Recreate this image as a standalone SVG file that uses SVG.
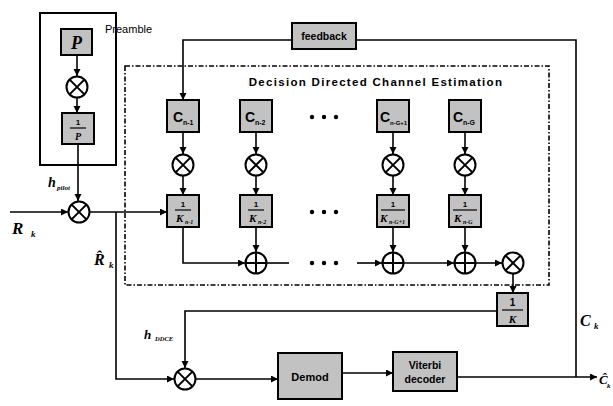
<svg xmlns="http://www.w3.org/2000/svg" width="613" height="406" viewBox="0 0 613 406">
<style>
.box{fill:#c2c2c2;stroke:#000;stroke-width:2}
.ln{fill:none;stroke:#000;stroke-width:1.6}
.sym{fill:#fff;stroke:#000;stroke-width:2}
.lbl{font-family:"Liberation Sans",Arial,sans-serif;font-weight:bold;fill:#000}
.it{font-family:"Liberation Serif","Times New Roman",serif;font-style:italic;font-weight:bold;fill:#000}
.dot{fill:#000}
</style>
<defs>
<marker id="ah" markerWidth="8" markerHeight="8" refX="7" refY="3.5" orient="auto" markerUnits="userSpaceOnUse">
<path d="M0,0 L7,3.5 L0,7 z" fill="#000"/>
</marker>
<g id="mul"><circle r="10.5" class="sym"/><path d="M-7.4,-7.4 L7.4,7.4 M-7.4,7.4 L7.4,-7.4" stroke="#000" stroke-width="2"/></g>
<g id="add"><circle r="10.5" class="sym"/><path d="M0,-10.5 L0,10.5 M-10.5,0 L10.5,0" stroke="#000" stroke-width="2"/></g>
</defs>
<rect width="613" height="406" fill="#fff"/>

<g id="connectors">
<path class="ln" d="M77,55 L77,76" marker-end="url(#ah)"/>
<path class="ln" d="M77,98 L77,113" marker-end="url(#ah)"/>
<path class="ln" d="M78,144 L78,201" marker-end="url(#ah)"/>
<path class="ln" d="M10,212 L68,212" marker-end="url(#ah)"/>
<path class="ln" d="M90,212 L167,212" marker-end="url(#ah)"/>
<path class="ln" d="M116,212 L116,379 L174,379" marker-end="url(#ah)"/>
<path class="ln" d="M292,40 L183,40 L183,100" marker-end="url(#ah)"/>
<path class="ln" d="M356,40 L576,40 L576,377"/>
<path class="ln" d="M183,132 L183,154" marker-end="url(#ah)"/>
<path class="ln" d="M183,176 L183,195" marker-end="url(#ah)"/>
<path class="ln" d="M256,132 L256,154" marker-end="url(#ah)"/>
<path class="ln" d="M256,176 L256,195" marker-end="url(#ah)"/>
<path class="ln" d="M393,132 L393,154" marker-end="url(#ah)"/>
<path class="ln" d="M393,176 L393,195" marker-end="url(#ah)"/>
<path class="ln" d="M465,132 L465,154" marker-end="url(#ah)"/>
<path class="ln" d="M465,176 L465,195" marker-end="url(#ah)"/>
<path class="ln" d="M183,227 L183,263 L245,263" marker-end="url(#ah)"/>
<path class="ln" d="M256,227 L256,252" marker-end="url(#ah)"/>
<path class="ln" d="M393,227 L393,252" marker-end="url(#ah)"/>
<path class="ln" d="M465,227 L465,252" marker-end="url(#ah)"/>
<path class="ln" d="M267,263 L289,263"/>
<path class="ln" d="M357,263 L382,263" marker-end="url(#ah)"/>
<path class="ln" d="M404,263 L454,263" marker-end="url(#ah)"/>
<path class="ln" d="M476,263 L502,263" marker-end="url(#ah)"/>
<path class="ln" d="M513,274 L513,293" marker-end="url(#ah)"/>
<path class="ln" d="M497,311 L185,311 L185,368" marker-end="url(#ah)"/>
<path class="ln" d="M196,379 L278,379" marker-end="url(#ah)"/>
<path class="ln" d="M342,373 L393,373" marker-end="url(#ah)"/>
<path class="ln" d="M457,377 L597,377" marker-end="url(#ah)"/>
</g>

<g id="preamble">
<rect x="40" y="13" width="76" height="152" fill="none" stroke="#000" stroke-width="2"/>
<text x="105" y="33" class="lbl" font-size="11" style="font-weight:normal">Preamble</text>
</g>
<g id="ddce">
<rect x="125" y="66" width="424" height="219" fill="none" stroke="#000" stroke-width="1.6" stroke-dasharray="5,2,1.5,2"/>
<text x="376" y="86" class="lbl" font-size="11.5" text-anchor="middle" letter-spacing="1.3">Decision Directed Channel Estimation</text>
</g>

<g id="P"><rect x="61" y="29" width="31" height="26" class="box"/><text x="76.5" y="49" class="it" font-size="18" text-anchor="middle">P</text></g>
<g id="mulP"><use href="#mul" x="77" y="87"/></g>
<g id="invP"><rect x="62" y="113" width="32" height="31" class="box"/><text x="78" y="125" class="lbl" font-size="8" text-anchor="middle">1</text><path d="M70,128 L86,128" stroke="#000" stroke-width="1.2"/><text x="78" y="140" class="it" font-size="10" text-anchor="middle">P</text></g>
<g id="hpilot"><text x="48" y="187" class="it" font-size="14">h</text><text x="57" y="190" class="it" font-size="7">pilot</text></g>
<g id="mulMain"><use href="#mul" x="79" y="212"/></g>
<g id="Rk"><text x="12" y="234" class="it" font-size="17">R</text><text x="31" y="237" class="it" font-size="9">k</text></g>
<g id="Rhat"><text x="94" y="265" class="it" font-size="16">R̂</text><text x="109" y="268" class="it" font-size="9">k</text></g>

<g id="feedback"><rect x="292" y="23" width="64" height="26" class="box"/><text x="324" y="40" class="lbl" font-size="10.5" text-anchor="middle">feedback</text></g>

<g id="C1"><rect x="167" y="100" width="32" height="32" class="box"/><text x="173" y="122" class="lbl" font-size="14">C</text><text x="183" y="125" class="lbl" font-size="7">n-1</text></g>
<g id="C2"><rect x="240" y="100" width="32" height="32" class="box"/><text x="245" y="122" class="lbl" font-size="14">C</text><text x="255" y="125" class="lbl" font-size="7">n-2</text></g>
<g id="C3"><rect x="377" y="100" width="32" height="32" class="box"/><text x="380" y="122" class="lbl" font-size="14">C</text><text x="390" y="125" class="lbl" font-size="6">n-G+1</text></g>
<g id="C4"><rect x="449" y="100" width="32" height="32" class="box"/><text x="453" y="122" class="lbl" font-size="14">C</text><text x="463" y="125" class="lbl" font-size="7">n-G</text></g>

<g id="dots1"><circle cx="312" cy="117" r="2.2" class="dot"/><circle cx="324" cy="117" r="2.2" class="dot"/><circle cx="336" cy="117" r="2.2" class="dot"/></g>
<g id="dots2"><circle cx="312" cy="212" r="2.2" class="dot"/><circle cx="324" cy="212" r="2.2" class="dot"/><circle cx="336" cy="212" r="2.2" class="dot"/></g>
<g id="dots3"><circle cx="312" cy="263" r="2.2" class="dot"/><circle cx="324" cy="263" r="2.2" class="dot"/><circle cx="336" cy="263" r="2.2" class="dot"/></g>

<g id="m1"><use href="#mul" x="183" y="165"/></g>
<g id="m2"><use href="#mul" x="256" y="165"/></g>
<g id="m3"><use href="#mul" x="393" y="165"/></g>
<g id="m4"><use href="#mul" x="465" y="165"/></g>

<g id="K1"><rect x="167" y="195" width="32" height="32" class="box"/><text x="183" y="207" class="lbl" font-size="8" text-anchor="middle">1</text><path d="M175,210 L191,210" stroke="#000" stroke-width="1.2"/><text x="176" y="222" class="it" font-size="11">K</text><text x="185" y="224" class="it" font-size="6">n-1</text></g>
<g id="K2"><rect x="240" y="195" width="32" height="32" class="box"/><text x="256" y="207" class="lbl" font-size="8" text-anchor="middle">1</text><path d="M248,210 L264,210" stroke="#000" stroke-width="1.2"/><text x="249" y="222" class="it" font-size="11">K</text><text x="258" y="224" class="it" font-size="6">n-2</text></g>
<g id="K3"><rect x="377" y="195" width="32" height="32" class="box"/><text x="393" y="207" class="lbl" font-size="8" text-anchor="middle">1</text><path d="M381,210 L405,210" stroke="#000" stroke-width="1.2"/><text x="380" y="222" class="it" font-size="11">K</text><text x="389" y="224" class="it" font-size="6">n-G+1</text></g>
<g id="K4"><rect x="449" y="195" width="32" height="32" class="box"/><text x="465" y="207" class="lbl" font-size="8" text-anchor="middle">1</text><path d="M453,210 L477,210" stroke="#000" stroke-width="1.2"/><text x="454" y="222" class="it" font-size="11">K</text><text x="463" y="224" class="it" font-size="6">n-G</text></g>

<g id="a2"><use href="#add" x="256" y="263"/></g>
<g id="a3"><use href="#add" x="393" y="263"/></g>
<g id="a4"><use href="#add" x="465" y="263"/></g>
<g id="mOut"><use href="#mul" x="513" y="263"/></g>

<g id="invK"><rect x="497" y="293" width="31" height="33" class="box"/><text x="512.5" y="306" class="lbl" font-size="10" text-anchor="middle">1</text><path d="M502,310 L523,310" stroke="#000" stroke-width="1.2"/><text x="512.5" y="323" class="it" font-size="11" text-anchor="middle">K</text></g>

<g id="hDDCE"><text x="144" y="339" class="it" font-size="13">h</text><text x="155" y="341" class="it" font-size="6.5">DDCE</text></g>
<g id="mulB"><use href="#mul" x="185" y="379"/></g>
<g id="demod"><rect x="278" y="353" width="64" height="46" class="box"/><text x="310" y="381" class="lbl" font-size="11" text-anchor="middle">Demod</text></g>
<g id="viterbi"><rect x="393" y="352" width="64" height="39" class="box"/><text x="425" y="369" class="lbl" font-size="10.5" text-anchor="middle">Viterbi</text><text x="425" y="383" class="lbl" font-size="10.5" text-anchor="middle">decoder</text></g>
<g id="Ck"><text x="580" y="326" class="it" font-size="16">C</text><text x="594" y="329" class="it" font-size="9">k</text></g>
<g id="Chat"><text x="599" y="384" class="it" font-size="13">Ĉ</text><text x="607" y="388" class="it" font-size="7">k</text></g>
</svg>
